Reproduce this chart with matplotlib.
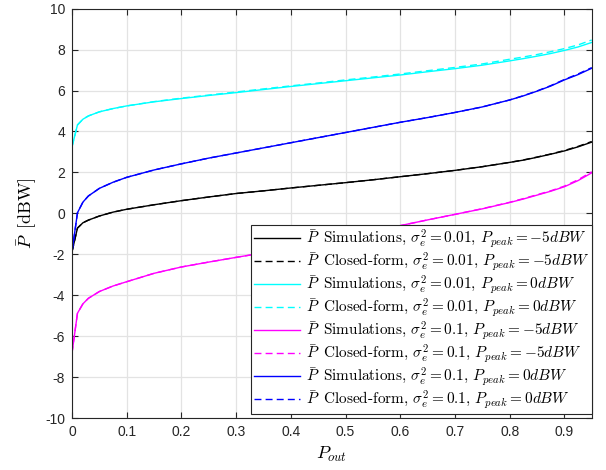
import matplotlib
matplotlib.use("Agg")
import matplotlib.pyplot as plt

plt.rcParams['mathtext.fontset'] = 'cm'
plt.rcParams['axes.unicode_minus'] = False

# Outage probability grid (x)
p_out = [0, 0.01, 0.02, 0.03, 0.05, 0.075, 0.1, 0.15, 0.2, 0.25, 0.3, 0.35, 0.4,
         0.45, 0.5, 0.55, 0.6, 0.65, 0.7, 0.75, 0.8, 0.825, 0.85, 0.875, 0.9, 0.925, 0.95]

# sigma_e^2 = 0.01, Ppeak = -5 dBW (black)
sim_001_m5 = [-1.88, -0.72, -0.46, -0.33, -0.13, 0.06, 0.2, 0.42, 0.62, 0.8, 0.97, 1.1, 1.24,
              1.37, 1.5, 1.64, 1.79, 1.94, 2.1, 2.28, 2.49, 2.6, 2.74, 2.89, 3.05, 3.25, 3.48]
cf_001_m5 = [-1.88, -0.72, -0.46, -0.33, -0.13, 0.06, 0.2, 0.42, 0.62, 0.8, 0.97, 1.1, 1.24,
             1.37, 1.5, 1.64, 1.79, 1.94, 2.1, 2.28, 2.49, 2.61, 2.75, 2.9, 3.07, 3.27, 3.51]
# sigma_e^2 = 0.01, Ppeak = 0 dBW (cyan)
sim_001_0 = [3.25, 4.32, 4.6, 4.76, 4.96, 5.12, 5.25, 5.45, 5.61, 5.76, 5.9, 6.05, 6.2,
             6.34, 6.48, 6.62, 6.76, 6.92, 7.07, 7.24, 7.45, 7.56, 7.68, 7.81, 7.96, 8.13, 8.35]
cf_001_0 = [3.25, 4.32, 4.6, 4.76, 4.96, 5.12, 5.25, 5.46, 5.63, 5.78, 5.93, 6.08, 6.23,
            6.37, 6.52, 6.66, 6.81, 6.97, 7.13, 7.3, 7.53, 7.64, 7.76, 7.9, 8.05, 8.23, 8.47]
# sigma_e^2 = 0.1, Ppeak = -5 dBW (magenta)
sim_01_m5 = [-6.83, -4.88, -4.42, -4.15, -3.82, -3.55, -3.34, -2.93, -2.62, -2.38, -2.15, -1.93, -1.72,
             -1.48, -1.2, -0.9, -0.6, -0.32, -0.05, 0.22, 0.53, 0.7, 0.89, 1.08, 1.3, 1.6, 1.98]
cf_01_m5 = [-6.83, -4.88, -4.42, -4.15, -3.82, -3.55, -3.34, -2.93, -2.62, -2.38, -2.15, -1.93, -1.72,
            -1.48, -1.2, -0.9, -0.6, -0.32, -0.05, 0.23, 0.54, 0.72, 0.91, 1.1, 1.33, 1.64, 2.03]
# sigma_e^2 = 0.1, Ppeak = 0 dBW (blue)
sim_01_0 = [-1.88, 0.03, 0.55, 0.85, 1.22, 1.52, 1.76, 2.12, 2.42, 2.7, 2.95, 3.2, 3.45,
            3.7, 3.95, 4.2, 4.45, 4.68, 4.93, 5.2, 5.54, 5.74, 5.97, 6.22, 6.52, 6.78, 7.09]
cf_01_0 = [-1.88, 0.03, 0.55, 0.85, 1.22, 1.52, 1.76, 2.12, 2.42, 2.7, 2.95, 3.2, 3.45,
           3.7, 3.95, 4.2, 4.45, 4.68, 4.93, 5.2, 5.54, 5.75, 5.98, 6.24, 6.54, 6.81, 7.12]

labels = [
    r'$\bar{P}\,$ Simulations, $\sigma_e^2=0.01$, $P_{peak}=-5dBW$',
    r'$\bar{P}\,$ Closed-form, $\sigma_e^2=0.01$, $P_{peak}=-5dBW$',
    r'$\bar{P}\,$ Simulations, $\sigma_e^2=0.01$, $P_{peak}=0dBW$',
    r'$\bar{P}\,$ Closed-form, $\sigma_e^2=0.01$, $P_{peak}=0dBW$',
    r'$\bar{P}\,$ Simulations, $\sigma_e^2=0.1$, $P_{peak}=-5dBW$',
    r'$\bar{P}\,$ Closed-form, $\sigma_e^2=0.1$, $P_{peak}=-5dBW$',
    r'$\bar{P}\,$ Simulations, $\sigma_e^2=0.1$, $P_{peak}=0dBW$',
    r'$\bar{P}\,$ Closed-form, $\sigma_e^2=0.1$, $P_{peak}=0dBW$',
]
series = [sim_001_m5, cf_001_m5, sim_001_0, cf_001_0, sim_01_m5, cf_01_m5, sim_01_0, cf_01_0]
colors = ['#000000', '#000000', '#00FFFF', '#00FFFF', '#FF00FF', '#FF00FF', '#0000FF', '#0000FF']
styles = ['-', '--', '-', '--', '-', '--', '-', '--']

xticks = [0, 0.1, 0.2, 0.3, 0.4, 0.5, 0.6, 0.7, 0.8, 0.9]
xticklabels = ['0', '0.1', '0.2', '0.3', '0.4', '0.5', '0.6', '0.7', '0.8', '0.9']
yticks = [-10, -8, -6, -4, -2, 0, 2, 4, 6, 8, 10]
yticklabels = ['-10', '-8', '-6', '-4', '-2', '0', '2', '4', '6', '8', '10']

fig = plt.figure(figsize=(6.06, 4.70), dpi=100)
ax = fig.add_axes([0.1188, 0.1106, 0.8576, 0.8709])

for y, c, ls, lab in zip(series, colors, styles, labels):
    ax.plot(p_out, y, color=c, linestyle=ls, linewidth=1.0, label=lab,
            dashes=(5, 3) if ls == '--' else (None, None))

ax.set_xlim(0, 0.95)
ax.set_ylim(-10, 10)
ax.set_xticks(xticks)
ax.set_xticklabels(xticklabels)
ax.set_yticks(yticks)
ax.set_yticklabels(yticklabels)

tick_color = '#262626'
for lab in ax.get_xticklabels() + ax.get_yticklabels():
    lab.set_family('Liberation Sans')
    lab.set_fontsize(10)
    lab.set_color(tick_color)
ax.tick_params(direction='in', length=4, width=0.8, top=True, right=True,
               colors=tick_color, pad=5)
for s in ax.spines.values():
    s.set_color(tick_color)
    s.set_linewidth(0.8)
ax.grid(True, color='#e3e3e3', linewidth=0.9)
ax.set_axisbelow(True)

ax.set_xlabel(r'$P_{out}$', fontsize=13, labelpad=4)
ax.set_ylabel(r'$\bar{P}\,$ [dBW]', fontsize=13, family='cmr10', labelpad=4)

leg = ax.legend(loc='lower right', bbox_to_anchor=(1.0, 0.01), borderaxespad=0,
                prop={'family': 'cmr10', 'size': 11}, handlelength=3.05,
                handletextpad=0.35, labelspacing=0.02, borderpad=0.2,
                fancybox=False, framealpha=1, edgecolor='#262626')
leg.get_frame().set_linewidth(0.8)

fig.savefig('out.png', dpi=100)
